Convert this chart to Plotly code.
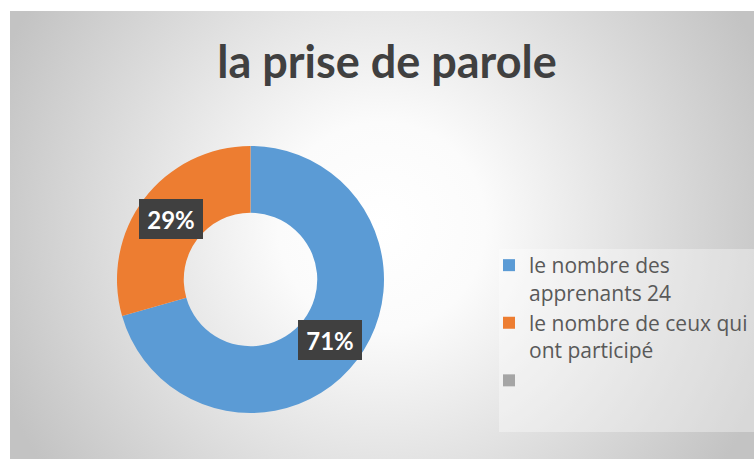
import base64
import math

import plotly.graph_objects as go

# Data
labels = ["le nombre des<br>apprenants 24", "le nombre de ceux qui<br>ont participé", " "]
values = [24, 10, 0]
colors = ["#5B9BD5", "#ED7D31", "#A5A5A5"]

W, H = 754, 459


def px(x):
    return x / W


def py(y):
    return 1 - y / H


# Chart-area background: Excel-like radial gradient (white centre, grey edges)
svg = (
    '<svg xmlns="http://www.w3.org/2000/svg" width="744" height="448">'
    '<defs><radialGradient id="g" gradientUnits="userSpaceOnUse" cx="372" cy="215" r="415">'
    '<stop offset="0" stop-color="#ffffff"/>'
    '<stop offset="0.25" stop-color="#fbfbfb"/>'
    '<stop offset="1" stop-color="#c3c3c3"/>'
    '</radialGradient></defs>'
    '<rect width="744" height="448" fill="url(#g)"/></svg>'
)
bg_src = "data:image/svg+xml;base64," + base64.b64encode(svg.encode()).decode()

# Donut geometry (page pixels)
cx, cy, r = 250.5, 279.5, 133.5
hole = 0.5

fig = go.Figure()

fig.add_trace(go.Pie(
    labels=labels,
    values=values,
    hole=hole,
    sort=False,
    direction="clockwise",
    rotation=0,
    marker=dict(colors=colors, line=dict(width=0)),
    textinfo="none",
    hoverinfo="label+percent",
    domain=dict(
        x=[px(cx - r), px(cx + r)],
        y=[py(cy + r), py(cy - r)],
    ),
))

# Percentage labels in dark boxes, placed at the middle of each ring segment
total = sum(values)
annotations = []
cum = 0
for v in values:
    if v == 0:
        continue
    mid = (cum + v / 2) / total * 2 * math.pi
    cum += v
    rm = r * (1 + hole) / 2
    annotations.append(dict(
        text=f"<b>{round(v / total * 100)}%</b>",
        x=px(cx + rm * math.sin(mid)), y=py(cy - rm * math.cos(mid)),
        xref="paper", yref="paper",
        xanchor="center", yanchor="middle",
        showarrow=False,
        font=dict(family="Lato", size=24, color="white"),
        bgcolor="#404040",
        bordercolor="#404040",
        borderwidth=1,
        borderpad=0,
        width=62, height=38,
    ))

fig.update_layout(
    width=W,
    height=H,
    margin=dict(l=0, r=0, t=0, b=0),
    paper_bgcolor="white",
    plot_bgcolor="white",
    title=dict(
        text="<b>la prise de parole</b>",
        x=px(387), xanchor="center",
        y=py(62), yanchor="middle",
        font=dict(family="Lato", size=45, color="#404040"),
    ),
    images=[dict(
        source=bg_src,
        xref="paper", yref="paper",
        x=px(10), y=py(11),
        sizex=744 / W, sizey=448 / H,
        xanchor="left", yanchor="top",
        sizing="stretch",
        layer="below",
    )],
    shapes=[dict(
        type="rect", xref="paper", yref="paper",
        x0=px(499), x1=1, y0=py(432), y1=py(249),
        fillcolor="rgba(255,255,255,0.35)",
        line=dict(width=0),
        layer="below",
    )],
    legend=dict(
        x=px(489), y=py(245),
        xanchor="left", yanchor="top",
        bgcolor="rgba(0,0,0,0)",
        font=dict(family="Open Sans", size=21, color="#595959"),
        valign="top",
        itemwidth=30,
    ),
    annotations=annotations,
)

fig.write_html(
    "out.html",
    config={"displayModeBar": False},
    post_script="document.body.style.margin='0';document.body.style.overflow='hidden';",
)
